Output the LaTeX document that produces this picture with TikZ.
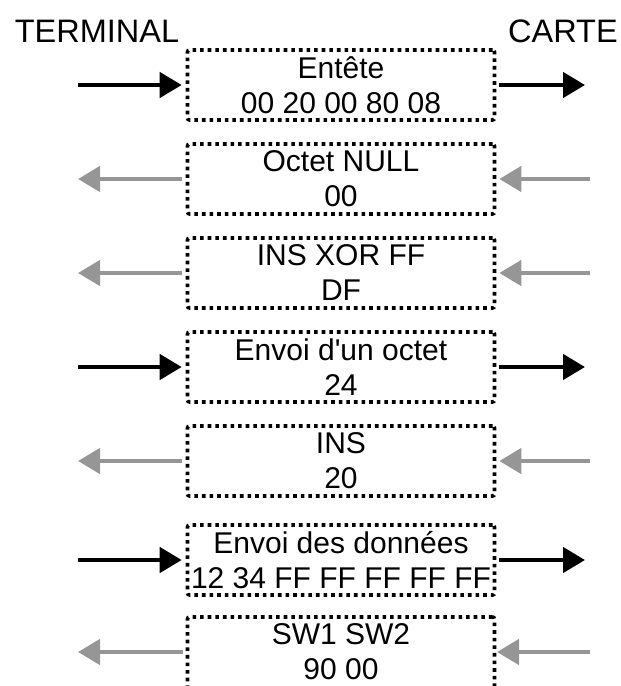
\documentclass[tikz,border=0pt]{standalone}
\usepackage{fontspec}
\setmainfont{Liberation Sans}
\usetikzlibrary{arrows.meta}
\definecolor{arrgray}{RGB}{150,150,150}
\tikzset{
  x=1pt,y=-1pt,
  msgbox/.style={draw=black, line width=3.6pt, dash pattern=on 3.6pt off 4pt, rounded corners=2pt,
    minimum width=307pt, minimum height=70pt, inner sep=0pt, align=center,
    font=\fontsize{30}{35}\selectfont},
  title/.style={font=\fontsize{32.5}{38}\selectfont, inner sep=0pt},
  blackarr/.style={line width=4.5pt, draw=black, -{Triangle[length=22pt,width=25pt]}},
  grayarr/.style={line width=4.5pt, draw=arrgray, -{Triangle[length=22pt,width=25pt]}},
}
\begin{document}
\begin{tikzpicture}
\useasboundingbox (0,0) rectangle (621,686);
\clip (0,0) rectangle (621,686);
\node[title] (term) at (97,31) {TERMINAL};
\node[title] (carte) at (563,31) {CARTE};

\node[msgbox] (b1) at (341,85) {Entête\\00 20 00 80 08};
\node[msgbox] (b2) at (341,179) {Octet NULL\\00};
\node[msgbox] (b3) at (341,273) {INS XOR FF\\DF};
\node[msgbox] (b4) at (341,367) {Envoi d\textquotesingle un octet\\24};
\node[msgbox] (b5) at (341,461) {INS\\20};
\node[msgbox] (b6) at (341,560) {Envoi des données\\12 34 FF FF FF FF FF};
\node[msgbox, minimum height=80pt, text depth=10pt] (b7) at (341,657) {SW1 SW2\\90 00};

% black arrows (terminal -> card)
\foreach \b in {b1,b4,b6}{
  \coordinate (\b l) at (78,0 |- \b.west);
  \coordinate (\b r) at (585,0 |- \b.east);
  \draw[blackarr, shorten >=4pt] (\b l) -- (\b.west);
  \draw[blackarr, shorten <=3pt] (\b.east) -- (\b r);
}
% gray arrows (card -> terminal)
\foreach \b in {b2,b3,b5}{
  \coordinate (\b l) at (78,0 |- \b.west);
  \coordinate (\b r) at (590,0 |- \b.east);
  \draw[grayarr, shorten <=4pt] (\b.west) -- (\b l);
  \draw[grayarr, shorten >=3pt] (\b r) -- (\b.east);
}
\coordinate (b7l) at (78,652);
\coordinate (b7r) at (590,652);
\coordinate (b7w) at (187,652);
\coordinate (b7e) at (494,652);
\draw[grayarr, shorten <=4pt] (b7w) -- (b7l);
\draw[grayarr, shorten >=3pt] (b7r) -- (b7e);
\end{tikzpicture}
\end{document}
